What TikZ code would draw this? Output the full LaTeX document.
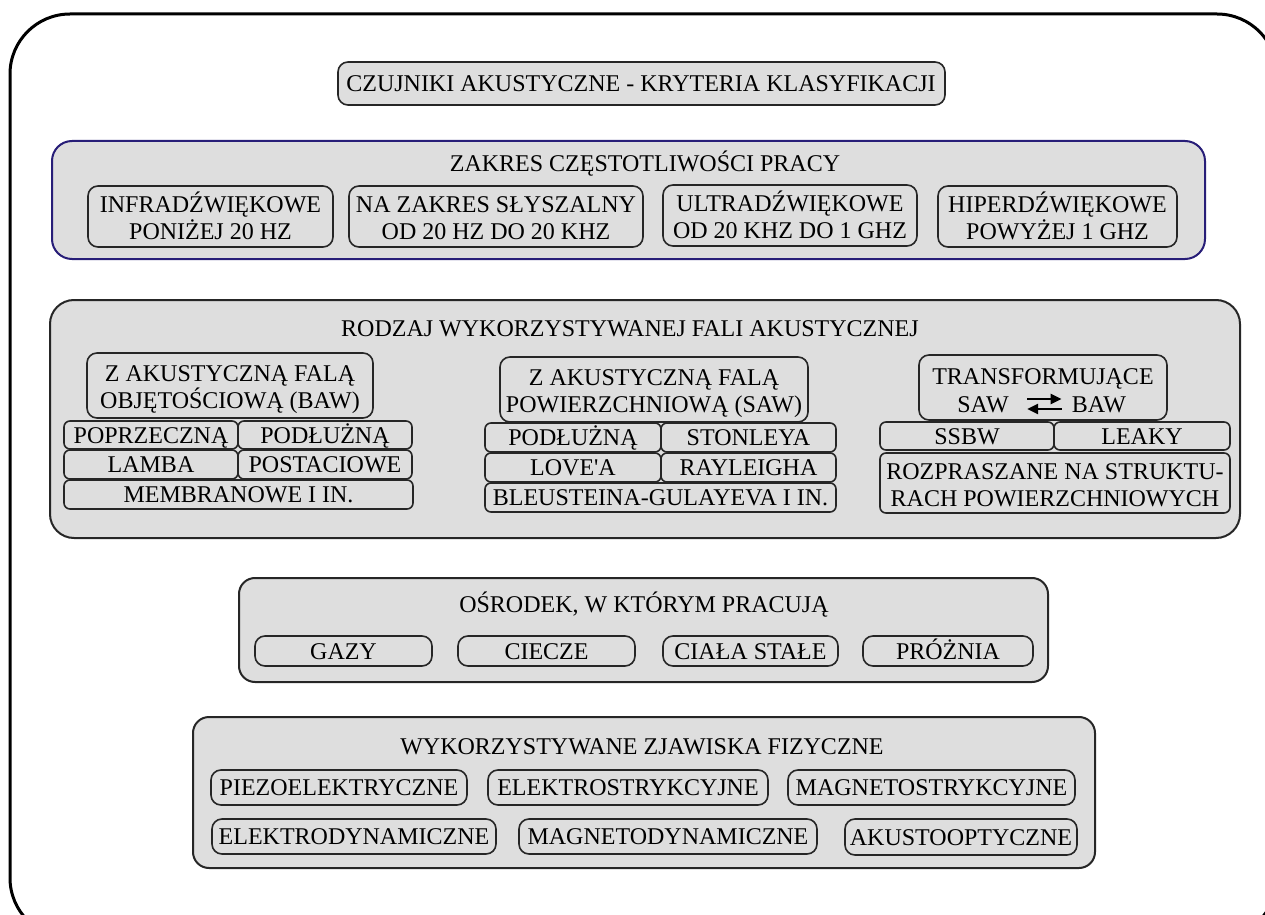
\documentclass[tikz,border=0pt]{standalone}
\usepackage{fontspec}
\setmainfont{Liberation Serif}
\usetikzlibrary{fit,arrows.meta}

\definecolor{panelgray}{RGB}{222,222,222}
\definecolor{framenavy}{RGB}{40,30,120}

\tikzset{
  panel/.style={draw=black!85, line width=1pt, fill=panelgray, inner sep=0pt},
  subbox/.style={draw=black!85, line width=0.8pt, rounded corners=5pt, inner sep=0pt},
  cell/.style={subbox, rounded corners=3pt},
  oneline/.style={inner sep=0pt, text height=8.6pt, text depth=0.6pt},
  txtone/.style={label={[oneline]center:#1}},
  txttwo/.style 2 args={label={[oneline, yshift=5.8pt]center:#1},
                        label={[oneline, yshift=-7.7pt]center:#2}},
  swap/.style={-{Triangle[length=5.5pt,width=5pt]}, line width=1.2pt}
}

\begin{document}
\begin{tikzpicture}[x=0.5pt, y=-0.5pt,
    every node/.append style={font=\fontsize{12}{13.5}\selectfont}]
    \useasboundingbox (0,0) rectangle (1265,915);
    \clip (0,0) rectangle (1265,915);

    % outer frame
    \draw[line width=1.5pt, rounded corners=30pt] (10,14) rectangle (1277,938);

    % title
    \node[subbox, fill=panelgray, fit={(338,62) (945,105)}] (title) {};
    \node[oneline] (titletext) at (641,84) {CZUJNIKI AKUSTYCZNE - KRYTERIA KLASYFIKACJI};

    % frequency range
    \node[panel, draw=framenavy, rounded corners=10pt, fit={(52,141) (1205,259)}] (freq) {};
    \node[oneline] (freqtitle) at (645,163) {ZAKRES CZĘSTOTLIWOŚCI PRACY};
    \node[subbox, fit={(88,186) (333,247)}, txttwo={INFRADŹWIĘKOWE}{PONIŻEJ 20 HZ}] (infra) {};
    \node[subbox, fit={(349,186) (643,247)}, txttwo={NA ZAKRES SŁYSZALNY}{OD 20 HZ DO 20 KHZ}] (audio) {};
    \node[subbox, fit={(663,185) (917,246)}, txttwo={ULTRADŹWIĘKOWE}{OD 20 KHZ DO 1 GHZ}] (ultra) {};
    \node[subbox, fit={(938,186) (1177,247)}, txttwo={HIPERDŹWIĘKOWE}{POWYŻEJ 1 GHZ}] (hyper) {};

    % wave type
    \node[panel, rounded corners=12pt, fit={(50,300) (1240,538)}] (wave) {};
    \node[oneline] (wavetitle) at (630,328) {RODZAJ WYKORZYSTYWANEJ FALI AKUSTYCZNEJ};

    % BAW
    \node[subbox, fit={(87,353) (373,418)}, txttwo={Z AKUSTYCZNĄ FALĄ}{OBJĘTOŚCIOWĄ (BAW)}] (baw) {};
    \node[cell, fit={(64,421) (238,449)}, txtone={POPRZECZNĄ}] (bawtrans) {};
    \node[cell, fit={(238,421) (412,449)}, txtone={PODŁUŻNĄ}] (bawlong) {};
    \node[cell, fit={(64,450) (238,479)}, txtone={LAMBA}] (lamb) {};
    \node[cell, fit={(238,450) (412,479)}, txtone={POSTACIOWE}] (shape) {};
    \node[cell, fit={(64,480) (413,509)}, txtone={MEMBRANOWE I IN.}] (membr) {};

    % SAW
    \node[subbox, fit={(500,357) (808,422)}, txttwo={Z AKUSTYCZNĄ FALĄ}{POWIERZCHNIOWĄ (SAW)}] (saw) {};
    \node[cell, fit={(485,423) (661,452)}, txtone={PODŁUŻNĄ}] (sawlong) {};
    \node[cell, fit={(661,423) (836,452)}, txtone={STONLEYA}] (stonley) {};
    \node[cell, fit={(485,453) (661,482)}, txtone={LOVE\textquotesingle A}] (love) {};
    \node[cell, fit={(661,453) (836,482)}, txtone={RAYLEIGHA}] (rayleigh) {};
    \node[cell, fit={(485,483) (836,512)}, txtone={BLEUSTEINA-GULAYEVA I IN.}] (bleustein) {};

    % SAW <-> BAW
    \node[subbox, fit={(919,355) (1167,420)}] (transf) {};
    \node[oneline] (transftext) at (1043,376) {TRANSFORMUJĄCE};
    \node[oneline] (sawlbl) at (983,404) {SAW};
    \node[oneline] (bawlbl) at (1099,404) {BAW};
    \draw[swap, shorten <=9pt, shorten >=5pt] ([yshift=2.5pt]sawlbl.east) -- ([yshift=2.5pt]bawlbl.west);
    \draw[swap, shorten <=5pt, shorten >=9pt] ([yshift=-2.5pt]bawlbl.west) -- ([yshift=-2.5pt]sawlbl.east);
    \node[cell, fit={(880,422) (1054,450)}, txtone={SSBW}] (ssbw) {};
    \node[cell, fit={(1054,422) (1230,450)}, txtone={LEAKY}] (leaky) {};
    \node[cell, fit={(880,453) (1230,513)}, txttwo={ROZPRASZANE NA STRUKTU-}{RACH POWIERZCHNIOWYCH}] (scatter) {};

    % medium
    \node[panel, rounded corners=8pt, fit={(239,578) (1048,682)}] (medium) {};
    \node[oneline] (mediumtitle) at (644,604) {OŚRODEK, W KTÓRYM PRACUJĄ};
    \node[subbox, fit={(255,636) (432,666)}, txtone={GAZY}] (gas) {};
    \node[subbox, fit={(458,636) (635,666)}, txtone={CIECZE}] (liquid) {};
    \node[subbox, fit={(663,636) (838,666)}, txtone={CIAŁA STAŁE}] (solid) {};
    \node[subbox, fit={(863,636) (1033,666)}, txtone={PRÓŻNIA}] (vacuum) {};

    % physical effects
    \node[panel, rounded corners=8pt, fit={(193,717) (1095,868)}] (effects) {};
    \node[oneline] (effectstitle) at (642,746) {WYKORZYSTYWANE ZJAWISKA FIZYCZNE};
    \node[subbox, fit={(211,770) (467,805)}, txtone={PIEZOELEKTRYCZNE}] (piezo) {};
    \node[subbox, fit={(488,770) (768,805)}, txtone={ELEKTROSTRYKCYJNE}] (electrostr) {};
    \node[subbox, fit={(788,770) (1075,805)}, txtone={MAGNETOSTRYKCYJNE}] (magnetostr) {};
    \node[subbox, fit={(212,819) (496,854)}, txtone={ELEKTRODYNAMICZNE}] (electrodyn) {};
    \node[subbox, fit={(519,819) (817,854)}, txtone={MAGNETODYNAMICZNE}] (magnetodyn) {};
    \node[subbox, fit={(845,819) (1077,855)}, txtone={AKUSTOOPTYCZNE}] (acoustoopt) {};
\end{tikzpicture}
\end{document}
